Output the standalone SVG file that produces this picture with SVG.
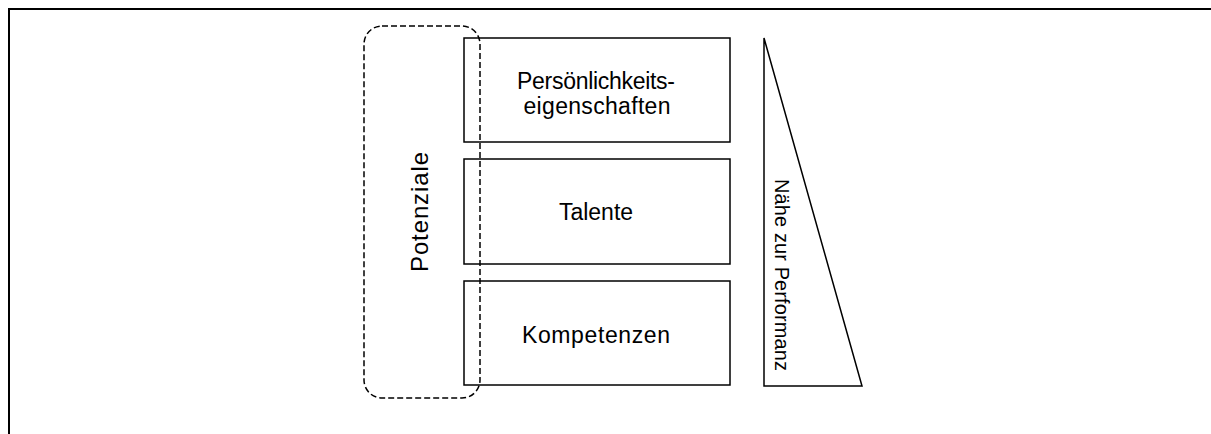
<svg xmlns="http://www.w3.org/2000/svg" width="1211" height="434" viewBox="0 0 1211 434">
<style>
.box{fill:#fff;stroke:#000;stroke-width:1.5}
.lbl{font-family:"Liberation Sans",Arial,sans-serif;font-size:23px;fill:#000;text-anchor:middle}
.frame{stroke:#000;stroke-width:2;fill:none}
</style>
<rect x="0" y="0" width="1211" height="434" fill="#fff"/>
<g id="frame"><path class="frame" d="M9,434 V9 H1211"/></g>
<g id="persoenlichkeit">
<rect class="box" x="464" y="38" width="266" height="104"/>
<text class="lbl" x="596" y="89" textLength="158">Persönlichkeits-</text>
<text class="lbl" x="597" y="114" textLength="147">eigenschaften</text>
</g>
<g id="talente">
<rect class="box" x="464" y="159" width="266" height="105"/>
<text class="lbl" x="596" y="220">Talente</text>
</g>
<g id="kompetenzen">
<rect class="box" x="464" y="281" width="266" height="104"/>
<text class="lbl" x="596" y="343" textLength="148">Kompetenzen</text>
</g>
<g id="potenziale">
<rect x="364" y="26" width="116" height="372" rx="18" ry="18" fill="none" stroke="#000" stroke-width="1.5" stroke-dasharray="6,3"/>
<text class="lbl" style="font-size:24px" transform="translate(428,212) rotate(-90)" textLength="120">Potenziale</text>
</g>
<g id="naehe">
<polygon points="764,38 764,386 862,386" fill="#fff" stroke="#000" stroke-width="1.5" stroke-linejoin="miter"/>
<text class="lbl" style="font-size:20px" transform="translate(775,275) rotate(90)" textLength="192">Nähe zur Performanz</text>
</g>
<g id="connectors"></g>
</svg>
